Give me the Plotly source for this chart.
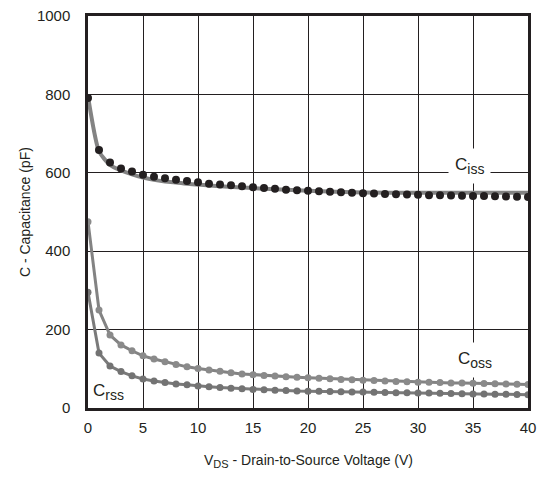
import plotly.graph_objects as go

v_dots = list(range(0, 41))

ciss_dots = [791, 658, 626, 611, 603, 595, 590, 586, 582, 579, 576, 572, 570, 568, 566,
             563, 561, 559, 557, 555.5, 554, 553, 551.5, 550.5, 549, 548, 547, 546, 545,
             544.5, 544, 543, 542.5, 542, 541.5, 541, 540.5, 540, 539.5, 539, 538]

v_ciss_line = [0, 1, 2, 3, 4, 5, 6, 7, 8, 9, 10, 12, 15, 20, 25, 30, 35, 40]
ciss_line = [795, 655, 620, 606, 596, 588, 582, 578, 575, 572, 570, 566, 561, 554, 550, 549, 549, 549]

coss = [475, 250, 186, 161, 146, 133, 125, 118, 111, 105, 101, 97, 94, 90, 87, 85, 83,
        81.5, 80, 78.5, 77, 76, 74.5, 73, 72, 71, 70, 69, 67.5, 67, 66, 65.5, 65, 64,
        63.5, 63, 62.5, 62, 61, 60.5, 60]

crss = [295, 140, 107, 93, 82, 74, 69, 65, 61, 59, 56, 54, 52, 50.5, 49, 47.5, 46.5,
        45.5, 44.5, 43.5, 43, 42.5, 42, 41.5, 41, 40.5, 40, 39.5, 39, 39, 38.5, 38,
        37.5, 37, 36.5, 36, 35.5, 35, 35, 34.5, 34]

x_ticks = [0, 5, 10, 15, 20, 25, 30, 35, 40]
y_ticks = [0, 200, 400, 600, 800, 1000]

labels = ["C<sub><span style='font-size:14px'>iss</span></sub>",
          "C<sub><span style='font-size:14px'>oss</span></sub>",
          "C<sub><span style='font-size:14px'>rss</span></sub>"]
label_x = [34.7, 35.2, 1.9]
label_y = [618, 122, 41]

x_title = "V<sub><span style='font-size:11px'>DS</span></sub> - Drain-to-Source Voltage (V)"
y_title = "C - Capacitance (pF)"

GRAY = "#838383"
DOT_GRAY = "#8a8a8a"
BLACK = "#231f20"

fig = go.Figure()

fig.add_trace(go.Scatter(x=v_ciss_line, y=ciss_line, mode="lines",
                         line=dict(color=GRAY, width=4, shape="spline", smoothing=0.6),
                         showlegend=False, hoverinfo="skip"))
fig.add_trace(go.Scatter(x=v_dots, y=ciss_dots, mode="markers",
                         marker=dict(color=BLACK, size=8),
                         showlegend=False))
fig.add_trace(go.Scatter(x=v_dots, y=coss, mode="lines+markers",
                         line=dict(color=GRAY, width=3),
                         marker=dict(color=DOT_GRAY, size=7),
                         showlegend=False))
fig.add_trace(go.Scatter(x=v_dots, y=crss, mode="lines+markers",
                         line=dict(color="#7a7a7a", width=3),
                         marker=dict(color="#737373", size=7),
                         showlegend=False))

for i, (t, lx, ly) in enumerate(zip(labels, label_x, label_y)):
    fig.add_annotation(x=lx, y=ly, text=t, showarrow=False,
                       font=dict(family="Liberation Sans, Arial", size=17, color="#231f20"),
                       bgcolor="white" if i < 2 else "rgba(0,0,0,0)",
                       borderpad=6 if i < 2 else 2)

fig.add_annotation(xref="paper", yref="paper", x=-0.143, y=0.5, text=y_title,
                   textangle=-90, showarrow=False, xanchor="center", yanchor="middle",
                   font=dict(family="Liberation Sans, Arial", size=14, color="#231f20"))
fig.add_annotation(xref="paper", yref="paper", x=0.5, y=-0.135, text=x_title,
                   showarrow=False, xanchor="center", yanchor="middle",
                   font=dict(family="Liberation Sans, Arial", size=14, color="#231f20"))

fig.update_layout(
    width=541, height=477,
    margin=dict(l=88, r=13, t=16, b=69, autoexpand=False),
    paper_bgcolor="white", plot_bgcolor="white",
    font=dict(family="Liberation Sans, Arial", size=15, color="#231f20"),
    showlegend=False,
)

fig.update_xaxes(range=[0, 40], tickvals=x_ticks, ticktext=[str(v) for v in x_ticks],
                 showgrid=True, gridcolor="#231f20", gridwidth=1,
                 showline=True, linecolor="#231f20", linewidth=2.5, mirror=True,
                 zeroline=False, ticks="", ticklabelstandoff=4, automargin=False)
fig.update_yaxes(range=[0, 1000], tickvals=y_ticks, ticktext=[str(v) for v in y_ticks],
                 showgrid=True, gridcolor="#231f20", gridwidth=1,
                 showline=True, linecolor="#231f20", linewidth=2.5, mirror=True,
                 zeroline=False, ticks="", ticklabelstandoff=12, automargin=False)

fig.write_html("out.html", config={"displayModeBar": False},
               post_script="document.body.style.margin='0';document.body.style.padding='0';document.body.style.overflow='hidden';")
